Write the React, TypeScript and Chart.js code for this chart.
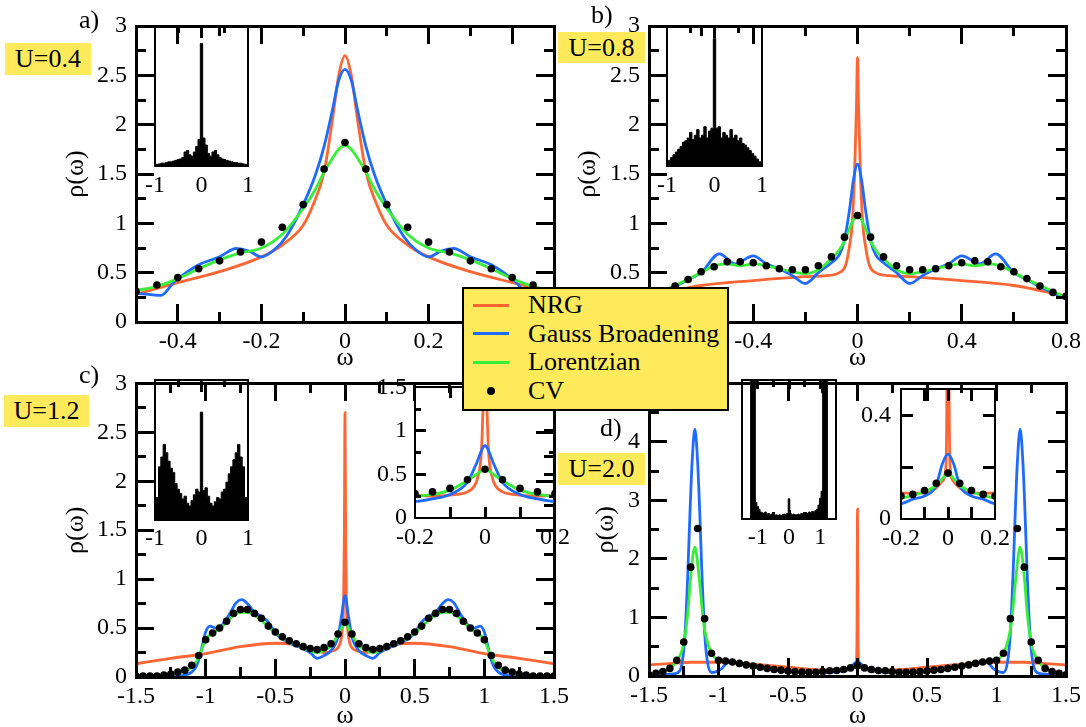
import React, { useEffect, useRef } from "react";
import { Chart, registerables } from "chart.js";

Chart.register(...registerables);

const SERIF = "'Liberation Serif', 'Times New Roman', Times, serif";
const ORANGE = "#ff6633";
const BLUE = "#1f6bff";
const GREEN = "#38ee38";
const YELLOW = "#ffea5c";
const TICK_FONT = 24;
const TITLE_FONT = 26;

const GRID_05 = [-0.5,-0.45,-0.4,-0.35,-0.3,-0.25,-0.2,-0.15,-0.1,-0.05,0,0.05,0.1,0.15,0.2,0.25,0.3,0.35,0.4,0.45,0.5];
const GRID_08 = [-0.8,-0.75,-0.7,-0.65,-0.6,-0.55,-0.5,-0.45,-0.4,-0.35,-0.3,-0.25,-0.2,-0.15,-0.1,-0.05,0,0.05,0.1,0.15,0.2,0.25,0.3,0.35,0.4,0.45,0.5,0.55,0.6,0.65,0.7,0.75,0.8];
const GRID_10 = [-1,-0.95,-0.9,-0.85,-0.8,-0.75,-0.7,-0.65,-0.6,-0.55,-0.5,-0.45,-0.4,-0.35,-0.3,-0.25,-0.2,-0.15,-0.1,-0.05,0,0.05,0.1,0.15,0.2,0.25,0.3,0.35,0.4,0.45,0.5,0.55,0.6,0.65,0.7,0.75,0.8,0.85,0.9,0.95,1];
const GRID_15 = [-1.5,-1.45,-1.4,-1.35,-1.3,-1.25,-1.2,-1.15,-1.1,-1.05,-1,-0.95,-0.9,-0.85,-0.8,-0.75,-0.7,-0.65,-0.6,-0.55,-0.5,-0.45,-0.4,-0.35,-0.3,-0.25,-0.2,-0.15,-0.1,-0.05,0,0.05,0.1,0.15,0.2,0.25,0.3,0.35,0.4,0.45,0.5,0.55,0.6,0.65,0.7,0.75,0.8,0.85,0.9,0.95,1,1.05,1.1,1.15,1.2,1.25,1.3,1.35,1.4,1.45,1.5];

const A_NRG_X = [-0.5,-0.4,-0.3,-0.2,-0.15,-0.1,-0.075,-0.05,-0.03,-0.015,0,0.015,0.03,0.05,0.075,0.1,0.15,0.2,0.3,0.4,0.5];
const A_NRG_Y = [0.28,0.4,0.51,0.66,0.78,0.98,1.2,1.52,2.05,2.5,2.7,2.5,2.05,1.52,1.2,0.98,0.78,0.66,0.51,0.4,0.3];
const A_GAU_X = [-0.5,-0.47,-0.44,-0.41,-0.38,-0.35,-0.3,-0.26,-0.23,-0.2,-0.17,-0.14,-0.1,-0.07,-0.05,-0.03,-0.015,0,0.015,0.03,0.05,0.07,0.1,0.14,0.17,0.2,0.23,0.26,0.3,0.35,0.38,0.41,0.44,0.47,0.5];
const A_GAU_Y = [0.29,0.28,0.27,0.4,0.5,0.58,0.66,0.745,0.72,0.66,0.73,0.87,1.19,1.5,1.78,2.15,2.45,2.56,2.45,2.15,1.78,1.5,1.19,0.87,0.73,0.66,0.72,0.745,0.66,0.58,0.5,0.4,0.27,0.28,0.29];
const A_LOR_X = [-0.5,-0.45,-0.4,-0.35,-0.3,-0.25,-0.2,-0.15,-0.1,-0.07,-0.05,-0.03,-0.015,0,0.015,0.03,0.05,0.07,0.1,0.15,0.2,0.25,0.3,0.35,0.4,0.45,0.5];
const A_LOR_Y = [0.32,0.36,0.44,0.54,0.63,0.7,0.75,0.89,1.15,1.35,1.52,1.66,1.75,1.79,1.75,1.66,1.52,1.35,1.15,0.89,0.75,0.7,0.63,0.54,0.44,0.36,0.32];
const A_CV_Y = [0.31,0.375,0.45,0.54,0.62,0.71,0.81,0.96,1.19,1.55,1.82,1.55,1.19,0.96,0.81,0.71,0.62,0.54,0.45,0.375,0.31];
const A_HIST = [0.01,0.012,0.015,0.02,0.02,0.025,0.03,0.03,0.035,0.04,0.045,0.05,0.06,0.1,0.11,0.08,0.07,0.1,0.14,0.19,0.875,0.2,0.15,0.09,0.07,0.1,0.11,0.08,0.06,0.05,0.04,0.04,0.035,0.03,0.025,0.025,0.02,0.02,0.015,0.012,0.01];

const B_NRG_X = [-0.8,-0.6,-0.4,-0.2,-0.12,-0.07,-0.045,-0.03,-0.02,-0.012,-0.008,-0.004,0,0.004,0.008,0.012,0.02,0.03,0.045,0.07,0.12,0.2,0.4,0.6,0.8];
const B_NRG_Y = [0.26,0.37,0.42,0.46,0.47,0.5,0.58,0.78,1.0,1.45,1.8,2.2,2.68,2.2,1.8,1.45,1.0,0.78,0.58,0.5,0.47,0.46,0.42,0.37,0.26];
const B_GAU_X = [-0.8,-0.7,-0.65,-0.6,-0.53,-0.47,-0.4,-0.35,-0.3,-0.25,-0.2,-0.15,-0.1,-0.07,-0.05,-0.03,-0.015,0,0.015,0.03,0.05,0.07,0.1,0.15,0.2,0.25,0.3,0.35,0.4,0.47,0.53,0.6,0.65,0.7,0.8];
const B_GAU_Y = [0.23,0.36,0.43,0.5,0.69,0.59,0.67,0.59,0.54,0.47,0.39,0.5,0.6,0.68,0.83,1.15,1.45,1.6,1.45,1.15,0.83,0.68,0.6,0.5,0.39,0.47,0.54,0.59,0.67,0.59,0.69,0.5,0.43,0.36,0.23];
const B_LOR_X = [-0.8,-0.7,-0.6,-0.55,-0.5,-0.45,-0.4,-0.35,-0.3,-0.25,-0.2,-0.15,-0.1,-0.07,-0.05,-0.03,-0.015,0,0.015,0.03,0.05,0.07,0.1,0.15,0.2,0.25,0.3,0.35,0.4,0.45,0.5,0.55,0.6,0.7,0.8];
const B_LOR_Y = [0.25,0.37,0.5,0.57,0.59,0.57,0.59,0.57,0.54,0.51,0.49,0.53,0.64,0.73,0.82,0.95,1.04,1.08,1.04,0.95,0.82,0.73,0.64,0.53,0.49,0.51,0.54,0.57,0.59,0.57,0.59,0.57,0.5,0.37,0.25];
const B_CV_Y = [0.26,0.3,0.365,0.43,0.51,0.56,0.61,0.61,0.6,0.57,0.54,0.53,0.53,0.57,0.66,0.86,1.08,0.86,0.66,0.57,0.53,0.53,0.54,0.57,0.6,0.62,0.61,0.56,0.51,0.44,0.365,0.3,0.26];
const B_HIST = [0.02,0.04,0.06,0.08,0.1,0.12,0.14,0.17,0.18,0.2,0.24,0.19,0.22,0.26,0.2,0.22,0.28,0.2,0.25,0.27,0.91,0.27,0.28,0.2,0.24,0.22,0.2,0.26,0.2,0.22,0.18,0.2,0.16,0.15,0.13,0.11,0.09,0.07,0.05,0.03,0.02];

const C_NRG_X = [-1.5,-1.25,-1,-0.75,-0.5,-0.35,-0.25,-0.15,-0.08,-0.05,-0.03,-0.02,-0.01,-0.005,0,0.005,0.01,0.02,0.03,0.05,0.08,0.15,0.25,0.35,0.5,0.75,1,1.25,1.5];
const C_NRG_Y = [0.135,0.19,0.24,0.31,0.345,0.33,0.29,0.25,0.27,0.3,0.37,0.48,0.78,1.4,2.7,1.4,0.78,0.48,0.37,0.3,0.27,0.25,0.29,0.33,0.345,0.31,0.24,0.19,0.135];
const C_GAU_X = [-1.5,-1.3,-1.2,-1.15,-1.1,-1.07,-1.04,-1.02,-1,-0.97,-0.93,-0.89,-0.83,-0.78,-0.74,-0.7,-0.65,-0.6,-0.55,-0.5,-0.4,-0.3,-0.25,-0.2,-0.15,-0.1,-0.05,-0.025,0,0.025,0.05,0.1,0.15,0.2,0.25,0.3,0.4,0.5,0.55,0.6,0.65,0.7,0.74,0.78,0.83,0.89,0.93,0.97,1,1.02,1.04,1.07,1.1,1.15,1.2,1.3,1.5];
const C_GAU_Y = [0,0,0.01,0.02,0.05,0.1,0.22,0.35,0.46,0.52,0.5,0.52,0.64,0.76,0.79,0.75,0.66,0.62,0.56,0.45,0.35,0.29,0.25,0.19,0.22,0.27,0.41,0.62,0.83,0.62,0.41,0.27,0.22,0.19,0.25,0.29,0.35,0.45,0.56,0.62,0.66,0.75,0.79,0.76,0.64,0.52,0.5,0.52,0.46,0.35,0.22,0.1,0.05,0.02,0.01,0,0];
const C_LOR_X = [-1.5,-1.3,-1.2,-1.1,-1.05,-1,-0.95,-0.9,-0.85,-0.8,-0.75,-0.7,-0.65,-0.6,-0.55,-0.5,-0.4,-0.3,-0.2,-0.15,-0.1,-0.05,-0.025,0,0.025,0.05,0.1,0.15,0.2,0.3,0.4,0.5,0.55,0.6,0.65,0.7,0.75,0.8,0.85,0.9,0.95,1,1.05,1.1,1.2,1.3,1.5];
const C_LOR_Y = [0.01,0.02,0.04,0.1,0.2,0.38,0.45,0.49,0.56,0.63,0.66,0.66,0.63,0.58,0.51,0.45,0.36,0.3,0.25,0.27,0.32,0.43,0.5,0.56,0.5,0.43,0.32,0.27,0.25,0.3,0.36,0.45,0.51,0.58,0.63,0.66,0.66,0.63,0.56,0.49,0.45,0.38,0.2,0.1,0.04,0.02,0.01];
const C_CV_Y = [0.01,0.01,0.01,0.01,0.02,0.03,0.05,0.07,0.12,0.22,0.38,0.45,0.5,0.57,0.65,0.69,0.69,0.65,0.6,0.52,0.46,0.41,0.37,0.34,0.31,0.29,0.28,0.3,0.34,0.44,0.56,0.44,0.34,0.3,0.28,0.29,0.31,0.34,0.37,0.41,0.46,0.52,0.6,0.65,0.69,0.69,0.65,0.57,0.5,0.45,0.38,0.22,0.12,0.07,0.05,0.03,0.02,0.01,0.01,0.01,0.01];
const C_HIST = [0.15,0.16,0.38,0.45,0.54,0.48,0.42,0.37,0.34,0.26,0.22,0.19,0.15,0.17,0.12,0.1,0.14,0.18,0.22,0.2,0.77,0.21,0.23,0.17,0.12,0.1,0.13,0.16,0.15,0.2,0.22,0.27,0.33,0.38,0.43,0.48,0.54,0.45,0.38,0.16,0.15];

const D_NRG_X = [-1.5,-1.3,-1.2,-1,-0.8,-0.5,-0.3,-0.2,-0.1,-0.05,-0.02,-0.01,-0.004,0,0.004,0.01,0.02,0.05,0.1,0.2,0.3,0.5,0.8,1,1.2,1.3,1.5];
const D_NRG_Y = [0.19,0.22,0.235,0.235,0.21,0.15,0.11,0.1,0.1,0.12,0.15,0.19,0.6,2.85,0.6,0.19,0.15,0.12,0.1,0.1,0.11,0.15,0.21,0.235,0.235,0.22,0.19];
const D_GAU_X = [-1.5,-1.35,-1.29,-1.26,-1.24,-1.22,-1.205,-1.19,-1.17,-1.15,-1.135,-1.12,-1.1,-1.08,-1.05,-1.02,-0.98,-0.94,-0.9,-0.85,-0.8,-0.6,-0.4,-0.3,-0.2,-0.15,-0.1,-0.05,-0.025,0,0.025,0.05,0.1,0.15,0.2,0.3,0.4,0.6,0.8,0.85,0.9,0.94,0.98,1.02,1.05,1.08,1.1,1.12,1.135,1.15,1.17,1.19,1.205,1.22,1.24,1.26,1.29,1.35,1.5];
const D_GAU_Y = [0.01,0.03,0.06,0.25,0.75,1.8,2.8,3.65,4.22,3.65,2.8,1.8,0.75,0.25,0.06,0.07,0.12,0.22,0.24,0.22,0.19,0.11,0.065,0.06,0.06,0.077,0.089,0.13,0.21,0.25,0.21,0.13,0.089,0.077,0.06,0.06,0.065,0.11,0.19,0.22,0.24,0.22,0.12,0.07,0.06,0.25,0.75,1.8,2.8,3.65,4.22,3.65,2.8,1.8,0.75,0.25,0.06,0.03,0.01];
const D_LOR_X = [-1.5,-1.4,-1.35,-1.3,-1.25,-1.22,-1.2,-1.17,-1.14,-1.12,-1.1,-1.07,-1.04,-1,-0.9,-0.8,-0.6,-0.4,-0.3,-0.2,-0.1,-0.05,-0.02,0,0.02,0.05,0.1,0.2,0.3,0.4,0.6,0.8,0.9,1,1.04,1.07,1.1,1.12,1.14,1.17,1.2,1.22,1.25,1.3,1.35,1.4,1.5];
const D_LOR_Y = [0.03,0.08,0.13,0.26,0.55,1.1,1.7,2.2,1.7,1.2,0.8,0.5,0.35,0.28,0.24,0.19,0.11,0.068,0.062,0.08,0.105,0.13,0.16,0.18,0.16,0.13,0.105,0.08,0.062,0.068,0.11,0.19,0.24,0.28,0.35,0.5,0.8,1.2,1.7,2.2,1.7,1.1,0.55,0.26,0.13,0.08,0.03];
const D_CV_Y = [0.02,0.045,0.075,0.13,0.27,0.58,1.86,2.52,0.98,0.39,0.27,0.255,0.24,0.215,0.19,0.17,0.15,0.13,0.11,0.1,0.085,0.074,0.068,0.064,0.065,0.075,0.089,0.095,0.11,0.138,0.177,0.138,0.11,0.095,0.089,0.075,0.065,0.064,0.068,0.074,0.085,0.1,0.11,0.13,0.15,0.17,0.19,0.215,0.24,0.255,0.27,0.39,0.98,2.52,1.86,0.58,0.27,0.13,0.075,0.045,0.02];
const D_HIST = [0,0,0,0,0,0,1.5,1.5,1.5,0.12,0.09,0.07,0.05,0.045,0.04,0.05,0.035,0.04,0.03,0.035,0.03,0.025,0.03,0.025,0.03,0.025,0.03,0.035,0.03,0.04,0.145,0.04,0.03,0.035,0.03,0.03,0.035,0.03,0.04,0.035,0.04,0.045,0.04,0.05,0.045,0.055,0.05,0.06,0.07,0.1,0.15,0.2,1.5,1.5,1.5,0,0,0,0,0,0];

const Y_TICKS_3 = [0, 0.5, 1, 1.5, 2, 2.5, 3];
const Y_TICKS_5 = [0, 1, 2, 3, 4, 5];
const X_TICKS_A = [-0.4, -0.2, 0, 0.2, 0.4];
const X_TICKS_B = [-0.8, -0.4, 0, 0.4, 0.8];
const X_TICKS_15 = [-1.5, -1, -0.5, 0, 0.5, 1, 1.5];
const X_TICKS_HIST = [-1, 0, 1];
const X_TICKS_ZOOM = [-0.2, 0, 0.2];
const Y_TICKS_ZC = [0, 0.5, 1, 1.5];
const Y_TICKS_ZD = [0, 0.4];

const LEGEND_LABELS = ["NRG", "Gauss Broadening", "Lorentzian", "CV"];

const pts = (xs: number[], ys: number[]) => xs.map((x, i) => ({ x, y: ys[i] }));
const curve = (xs: number[], ys: number[], color: string, order: number) => ({
  data: pts(xs, ys), borderColor: color, backgroundColor: color, borderWidth: 2.8,
  pointRadius: 0, cubicInterpolationMode: "monotone", fill: false, order,
});
const dots = (xs: number[], ys: number[]) => ({
  data: pts(xs, ys), showLine: false, pointRadius: 3.8, pointBackgroundColor: "#000",
  pointBorderWidth: 0, borderColor: "#000", backgroundColor: "#000", order: 0,
});
const hist = (xs: number[], ys: number[]) => ({
  data: pts(xs, ys), stepped: "middle", fill: "origin", borderColor: "#000",
  backgroundColor: "#000", borderWidth: 1, pointRadius: 0,
});

const setA = () => [dots(GRID_05, A_CV_Y), curve(A_LOR_X, A_LOR_Y, GREEN, 1), curve(A_GAU_X, A_GAU_Y, BLUE, 2), curve(A_NRG_X, A_NRG_Y, ORANGE, 3)];
const setB = () => [dots(GRID_08, B_CV_Y), curve(B_LOR_X, B_LOR_Y, GREEN, 1), curve(B_GAU_X, B_GAU_Y, BLUE, 2), curve(B_NRG_X, B_NRG_Y, ORANGE, 3)];
const setC = () => [dots(GRID_15, C_CV_Y), curve(C_LOR_X, C_LOR_Y, GREEN, 1), curve(C_GAU_X, C_GAU_Y, BLUE, 2), curve(C_NRG_X, C_NRG_Y, ORANGE, 3)];
const setD = () => [dots(GRID_15, D_CV_Y), curve(D_LOR_X, D_LOR_Y, GREEN, 1), curve(D_GAU_X, D_GAU_Y, BLUE, 2), curve(D_NRG_X, D_NRG_Y, ORANGE, 3)];

type Plot = {
  id: string; left: number; top: number; w: number; h: number;
  pad: number[]; x: number[]; y: number[];
  xLabels: number[]; yLabels: number[];
  xMajor: number[]; xMinor: number[]; yMajor: number[]; yMinor: number[];
  majorLen: number; minorLen: number; frameW: number;
  xTickPad: number; yTickPad: number;
  xTitle?: string; xTitlePad?: number; yTitle?: string; yTitlePad?: number;
  makeData: () => any[];
};

const PLOTS: Plot[] = [
  { id: "a", left: 0, top: 0, w: 575, h: 380, pad: [136, 26, 21, 58], x: [-0.5, 0.5], y: [0, 3],
    xLabels: X_TICKS_A, yLabels: Y_TICKS_3, xMajor: [-0.4, -0.2, 0, 0.2, 0.4], xMinor: [-0.3, -0.1, 0.1, 0.3],
    yMajor: [0.5, 1, 1.5, 2, 2.5], yMinor: [0.25, 0.75, 1.25, 1.75, 2.25, 2.75],
    majorLen: 18, minorLen: 10, frameW: 3,
    xTickPad: 5, yTickPad: 9, xTitle: "ω", xTitlePad: 6, yTitle: "ρ(ω)", yTitlePad: 61, makeData: setA },
  { id: "b", left: 560, top: 0, w: 526, h: 380, pad: [89, 26, 16, 58], x: [-0.8, 0.8], y: [0, 3],
    xLabels: X_TICKS_B, yLabels: Y_TICKS_3, xMajor: [-0.4, 0, 0.4], xMinor: [-0.6, -0.2, 0.2, 0.6],
    yMajor: [0.5, 1, 1.5, 2, 2.5], yMinor: [0.25, 0.75, 1.25, 1.75, 2.25, 2.75],
    majorLen: 18, minorLen: 10, frameW: 3,
    xTickPad: 5, yTickPad: 9, xTitle: "ω", xTitlePad: 6, yTitle: "ρ(ω)", yTitlePad: 13, makeData: setB },
  { id: "c", left: 0, top: 360, w: 575, h: 380, pad: [136, 20, 21, 63], x: [-1.5, 1.5], y: [0, 3],
    xLabels: X_TICKS_15, yLabels: Y_TICKS_3, xMajor: [-1, -0.5, 0, 0.5, 1], xMinor: [-1.25, -0.75, -0.25, 0.25, 0.75, 1.25],
    yMajor: [0.5, 1, 1.5, 2, 2.5], yMinor: [0.25, 0.75, 1.25, 1.75, 2.25, 2.75],
    majorLen: 18, minorLen: 10, frameW: 3,
    xTickPad: 5, yTickPad: 9, xTitle: "ω", xTitlePad: 8, yTitle: "ρ(ω)", yTitlePad: 61, makeData: setC },
  { id: "d", left: 560, top: 360, w: 526, h: 380, pad: [89, 20, 16, 64], x: [-1.5, 1.5], y: [0, 5],
    xLabels: X_TICKS_15, yLabels: Y_TICKS_5, xMajor: [-1, -0.5, 0, 0.5, 1], xMinor: [-1.25, -0.75, -0.25, 0.25, 0.75, 1.25],
    yMajor: [1, 2, 3, 4], yMinor: [0.5, 1.5, 2.5, 3.5, 4.5],
    majorLen: 18, minorLen: 10, frameW: 3,
    xTickPad: 5, yTickPad: 9, xTitle: "ω", xTitlePad: 8, yTitle: "ρ(ω)", yTitlePad: 31, makeData: setD },
  { id: "ia", left: 115, top: 16, w: 160, h: 190, pad: [40, 10, 27, 40], x: [-1, 1], y: [0, 1],
    xLabels: X_TICKS_HIST, yLabels: [], xMajor: [0], xMinor: [-0.5, 0.5], yMajor: [], yMinor: [],
    majorLen: 12, minorLen: 7, frameW: 2.4,
    xTickPad: 5, yTickPad: 8, makeData: () => [hist(GRID_10, A_HIST)] },
  { id: "ib", left: 627, top: 16, w: 160, h: 190, pad: [40, 10, 25, 40], x: [-1, 1], y: [0, 1],
    xLabels: X_TICKS_HIST, yLabels: [], xMajor: [0], xMinor: [-0.5, 0.5], yMajor: [], yMinor: [],
    majorLen: 12, minorLen: 7, frameW: 2.4,
    xTickPad: 5, yTickPad: 8, makeData: () => [hist(GRID_10, B_HIST)] },
  { id: "ic", left: 115, top: 370, w: 160, h: 190, pad: [40, 10, 27, 40], x: [-1, 1], y: [0, 1],
    xLabels: X_TICKS_HIST, yLabels: [], xMajor: [0], xMinor: [-0.5, 0.5], yMajor: [], yMinor: [],
    majorLen: 12, minorLen: 7, frameW: 2.4,
    xTickPad: 4, yTickPad: 8, makeData: () => [hist(GRID_10, C_HIST)] },
  { id: "icz", left: 355, top: 365, w: 220, h: 195, pad: [60, 15, 20, 42], x: [-0.2, 0.2], y: [0, 1.5],
    xLabels: X_TICKS_ZOOM, yLabels: Y_TICKS_ZC, xMajor: [-0.1, 0, 0.1], xMinor: [], yMajor: [0.5, 1], yMinor: [0.25, 0.75, 1.25],
    majorLen: 11, minorLen: 6, frameW: 2.4,
    xTickPad: 5, yTickPad: 8, makeData: setC },
  { id: "id", left: 702, top: 370, w: 160, h: 190, pad: [40, 10, 26, 41], x: [-1.5, 1.5], y: [0, 1],
    xLabels: X_TICKS_HIST, yLabels: [], xMajor: [-1, 0, 1], xMinor: [-0.5, 0.5], yMajor: [], yMinor: [],
    majorLen: 9, minorLen: 7, frameW: 2.4,
    xTickPad: 4, yTickPad: 8, makeData: () => [hist(GRID_15, D_HIST)] },
  { id: "idz", left: 846, top: 365, w: 170, h: 195, pad: [55, 15, 21, 41], x: [-0.2, 0.2], y: [0, 0.5],
    xLabels: X_TICKS_ZOOM, yLabels: Y_TICKS_ZD, xMajor: [-0.1, 0, 0.1], xMinor: [], yMajor: [0.2, 0.4], yMinor: [],
    majorLen: 12, minorLen: 6, frameW: 2.4,
    xTickPad: 5, yTickPad: 10, makeData: setD },
];

function drawFrame(chart: any, p: Plot) {
  const ctx: CanvasRenderingContext2D = chart.ctx;
  const a = chart.chartArea;
  const L = a.left, R = a.right, T = a.top, B = a.bottom;
  const x0 = p.x[0], x1 = p.x[1], y0 = p.y[0], y1 = p.y[1];
  const xpx = (v: number) => L + ((v - x0) / (x1 - x0)) * (R - L);
  const ypx = (v: number) => B - ((v - y0) / (y1 - y0)) * (B - T);
  const tw = 3;
  ctx.save();
  ctx.globalAlpha = 1;
  ctx.globalCompositeOperation = "source-over";
  ctx.fillStyle = "rgb(0,0,0)";
  const vt = (q: number, yStart: number, len: number) =>
    ctx.fillRect(Math.round(q - tw / 2), Math.round(Math.min(yStart, yStart + len)), tw, Math.round(Math.abs(len)));
  const ht = (q: number, xStart: number, len: number) =>
    ctx.fillRect(Math.round(Math.min(xStart, xStart + len)), Math.round(q - tw / 2), Math.round(Math.abs(len)), tw);
  for (let i = 0; i < p.xMajor.length; i++) { const q = xpx(p.xMajor[i]); vt(q, B, -p.majorLen); vt(q, T, p.majorLen); }
  for (let i = 0; i < p.xMinor.length; i++) { const q = xpx(p.xMinor[i]); vt(q, B, -p.minorLen); vt(q, T, p.minorLen); }
  for (let i = 0; i < p.yMajor.length; i++) { const q = ypx(p.yMajor[i]); ht(q, L, p.majorLen); ht(q, R, -p.majorLen); }
  for (let i = 0; i < p.yMinor.length; i++) { const q = ypx(p.yMinor[i]); ht(q, L, p.minorLen); ht(q, R, -p.minorLen); }
  const fw = Math.round(p.frameW);
  const h = fw / 2;
  ctx.fillRect(Math.round(L - h), Math.round(T - h), Math.round(R - L + fw), fw);
  ctx.fillRect(Math.round(L - h), Math.round(B - h), Math.round(R - L + fw), fw);
  ctx.fillRect(Math.round(L - h), Math.round(T - h), fw, Math.round(B - T + fw));
  ctx.fillRect(Math.round(R - h), Math.round(T - h), fw, Math.round(B - T + fw));
  ctx.restore();
}

function PlotCanvas({ p }: { p: Plot }) {
  const ref = useRef<HTMLCanvasElement | null>(null);
  useEffect(() => {
    const pl = p.pad[0], pt = p.pad[1], pr = p.pad[2], pb = p.pad[3];
    const framePlugin = { id: "frame_" + p.id, afterDraw: (chart: any) => drawFrame(chart, p) };
    const font = { family: SERIF, size: TICK_FONT };
    const tfont = { family: SERIF, size: TITLE_FONT };
    const chart = new Chart(ref.current as HTMLCanvasElement, {
      type: "line",
      data: { datasets: p.makeData() },
      options: {
        animation: false,
        responsive: false,
        events: [],
        layout: { padding: { left: 0, top: pt, right: pr, bottom: 0 }, autoPadding: false },
        plugins: { legend: { display: false }, tooltip: { enabled: false } },
        scales: {
          x: {
            type: "linear", min: p.x[0], max: p.x[1],
            grid: { display: false, drawTicks: false }, border: { display: false },
            ticks: { autoSkip: false, maxRotation: 0, padding: p.xTickPad, font, color: "#000", callback: (v: any) => String(v) },
            afterBuildTicks: (s: any) => { s.ticks = p.xLabels.map((v) => ({ value: v })); },
            afterFit: (s: any) => { s.height = pb; },
            title: p.xTitle ? { display: true, text: p.xTitle, font: tfont, color: "#000", padding: { top: 0, bottom: p.xTitlePad } } : { display: false },
          },
          y: {
            type: "linear", min: p.y[0], max: p.y[1],
            grid: { display: false, drawTicks: false }, border: { display: false },
            ticks: { display: p.yLabels.length > 0, autoSkip: false, padding: p.yTickPad, font, color: "#000", callback: (v: any) => String(v) },
            afterBuildTicks: (s: any) => { s.ticks = (p.yLabels.length ? p.yLabels : [0]).map((v) => ({ value: v })); },
            afterFit: (s: any) => { s.width = pl; },
            title: p.yTitle ? { display: true, text: p.yTitle, font: tfont, color: "#000", padding: { top: p.yTitlePad, bottom: 0 } } : { display: false },
          },
        },
      } as any,
      plugins: [framePlugin],
    });
    return () => chart.destroy();
  }, []);
  return (
    <canvas ref={ref} width={p.w} height={p.h}
      style={{ position: "absolute", left: p.left, top: p.top, width: p.w, height: p.h }} />
  );
}

const UBOXES = [
  { text: "U=0.4", left: 5, top: 43, w: 86, h: 32 },
  { text: "U=0.8", left: 558, top: 32, w: 87, h: 31 },
  { text: "U=1.2", left: 4, top: 395, w: 85, h: 32 },
  { text: "U=2.0", left: 558, top: 453, w: 87, h: 32 },
];
const LETTERS = [
  { text: "a)", left: 79, top: 5 },
  { text: "b)", left: 591, top: 0 },
  { text: "c)", left: 79, top: 360 },
  { text: "d)", left: 600, top: 413 },
];
const LEGEND_COLORS = [ORANGE, BLUE, GREEN, "#000"];

export default function App() {
  return (
    <div style={{ position: "fixed", left: 0, top: 0, width: 1086, height: 727, overflow: "hidden", background: "#fff" }}>
      {PLOTS.map((p) => <PlotCanvas key={p.id} p={p} />)}
      {UBOXES.map((u) => (
        <div key={u.text} style={{ position: "absolute", left: u.left, top: u.top, width: u.w, height: u.h, background: YELLOW,
          font: `${TITLE_FONT}px ${SERIF}`, lineHeight: `${u.h}px`, textAlign: "center", color: "#000", whiteSpace: "nowrap" }}>{u.text}</div>
      ))}
      {LETTERS.map((l) => (
        <div key={l.text} style={{ position: "absolute", left: l.left, top: l.top, font: `${TITLE_FONT}px ${SERIF}`,
          lineHeight: "30px", color: "#000", whiteSpace: "nowrap" }}>{l.text}</div>
      ))}
      <div style={{ position: "absolute", left: 462, top: 287, width: 267, height: 124, boxSizing: "border-box",
        background: YELLOW, border: "2px solid #000" }}>
        {LEGEND_LABELS.map((lab, i) => {
          const cy = 16 + i * 28.7;
          return (
            <React.Fragment key={lab}>
              {i < 3 ? (
                <div style={{ position: "absolute", left: 9, top: cy - 1.5, width: 36, height: 3, background: LEGEND_COLORS[i] }} />
              ) : (
                <div style={{ position: "absolute", left: 23, top: cy - 4, width: 8, height: 8, borderRadius: "50%", background: "#000" }} />
              )}
              <div style={{ position: "absolute", left: 64, top: cy - 15, height: 30, lineHeight: "30px",
                font: `${TITLE_FONT}px ${SERIF}`, color: "#000", whiteSpace: "nowrap" }}>{lab}</div>
            </React.Fragment>
          );
        })}
      </div>
    </div>
  );
}
